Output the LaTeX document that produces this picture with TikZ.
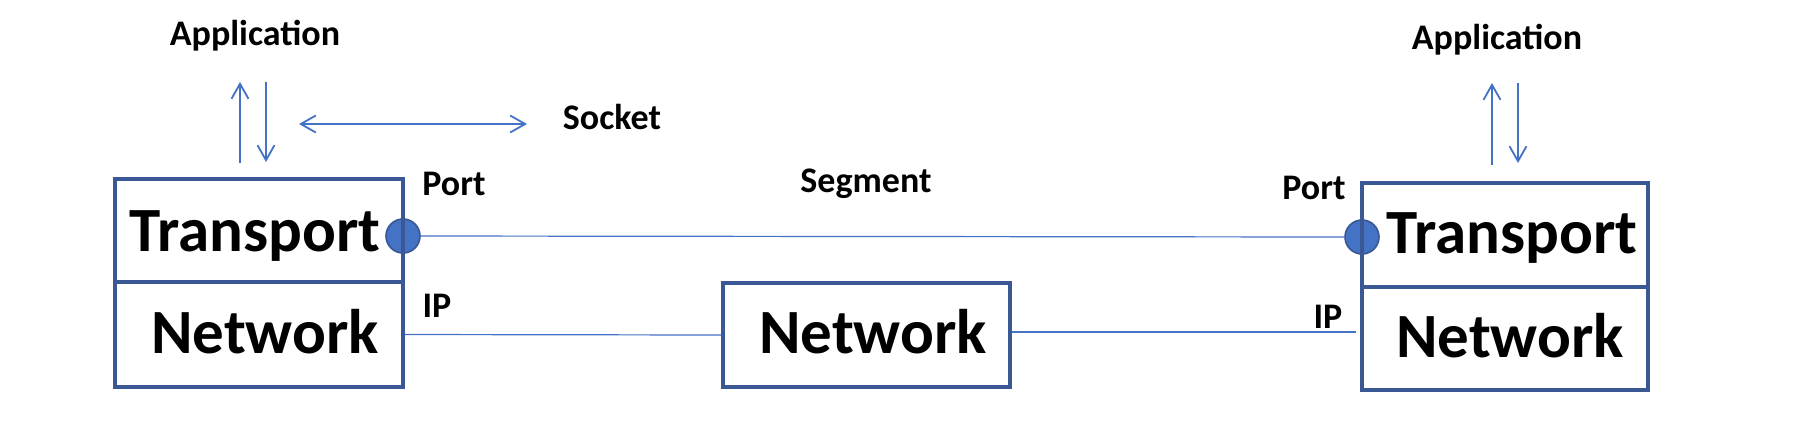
\documentclass[tikz,border=0pt]{standalone}
\usepackage{fontspec}
\setmainfont{Carlito}
\usetikzlibrary{arrows.meta}
\definecolor{boxblue}{HTML}{3A5894}
\definecolor{lineblue}{HTML}{4472C4}
\tikzset{
  layerbox/.style={draw=boxblue, line width=2pt, inner sep=0pt},
  bigtxt/.style={font=\fontsize{31.5}{31.5}\selectfont\bfseries, anchor=base, inner sep=0pt},
  smalltxt/.style={font=\fontsize{18}{18}\selectfont\bfseries, anchor=base, inner sep=0pt},
  portdot/.style={circle, draw=boxblue, line width=0.8pt, fill=lineblue, minimum size=17pt, inner sep=0pt},
  thinline/.style={draw=lineblue, line width=0.6pt},
  apparrow/.style={draw=lineblue, line width=0.9pt, -{Straight Barb[length=7.5pt,width=8.5pt]}},
  sockarrow/.style={draw=lineblue, line width=0.9pt, {Straight Barb[length=7.5pt,width=8.5pt]}-{Straight Barb[length=7.5pt,width=8.5pt]}}
}
\begin{document}
\begin{tikzpicture}[x=0.5pt,y=-0.5pt]
\useasboundingbox[fill=white] (0,0) rectangle (1796,420);
% port circles (beneath boxes)
\node[portdot] (lport) at (403,236) {};
\node[portdot] (rport) at (1362,237) {};
% boxes
\node[layerbox, minimum width=144pt, minimum height=51.5pt] (ltrans) at (259,230.5) {};
\node[layerbox, minimum width=144pt, minimum height=52.5pt] (lnet) at (259,334.5) {};
\node[layerbox, minimum width=143.5pt, minimum height=52pt] (mnet) at (866.5,335) {};
\node[layerbox, minimum width=143pt, minimum height=52pt] (rtrans) at (1505,235) {};
\node[layerbox, minimum width=143pt, minimum height=51.5pt] (rnet) at (1505,338.5) {};
% box texts
\node[bigtxt] (tltrans) at (255,251) {Transport};
\node[bigtxt] (tlnet) at (265,353) {Network};
\node[bigtxt] (tmnet) at (873,353) {Network};
\node[bigtxt] (trtrans) at (1512,253) {Transport};
\node[bigtxt] (trnet) at (1510,357) {Network};
% small labels
\node[smalltxt] (lapp) at (255,45) {Application};
\node[smalltxt] (rapp) at (1497,49) {Application};
\node[smalltxt] (sock) at (612,129) {Socket};
\node[smalltxt] (lportl) at (454,195) {Port};
\node[smalltxt] (rportl) at (1314,199) {Port};
\node[smalltxt] (seg) at (866,192) {Segment};
\node[smalltxt] (lip) at (437,317) {IP};
\node[smalltxt] (rip) at (1328,328) {IP};
% connectors
\draw[thinline] (lport.east) -- (rport.west);
\draw[thinline] (lnet.east) -- (mnet.west);
\coordinate (ripend) at (1356,332);
\draw[thinline] (mnet.east |- ripend) -- (ripend);
% application arrows
\coordinate (lu1) at (240,163); \coordinate (lu2) at (240,82);
\coordinate (ld1) at (266,82); \coordinate (ld2) at (266,162);
\coordinate (ru1) at (1492,165); \coordinate (ru2) at (1492,83);
\coordinate (rd1) at (1518,83); \coordinate (rd2) at (1518,163);
\draw[apparrow] (lu1) -- (lu2);
\draw[apparrow] (ld1) -- (ld2);
\draw[apparrow] (ru1) -- (ru2);
\draw[apparrow] (rd1) -- (rd2);
\coordinate (s1) at (299,124); \coordinate (s2) at (527,124);
\draw[sockarrow] (s1) -- (s2);
\end{tikzpicture}
\end{document}
